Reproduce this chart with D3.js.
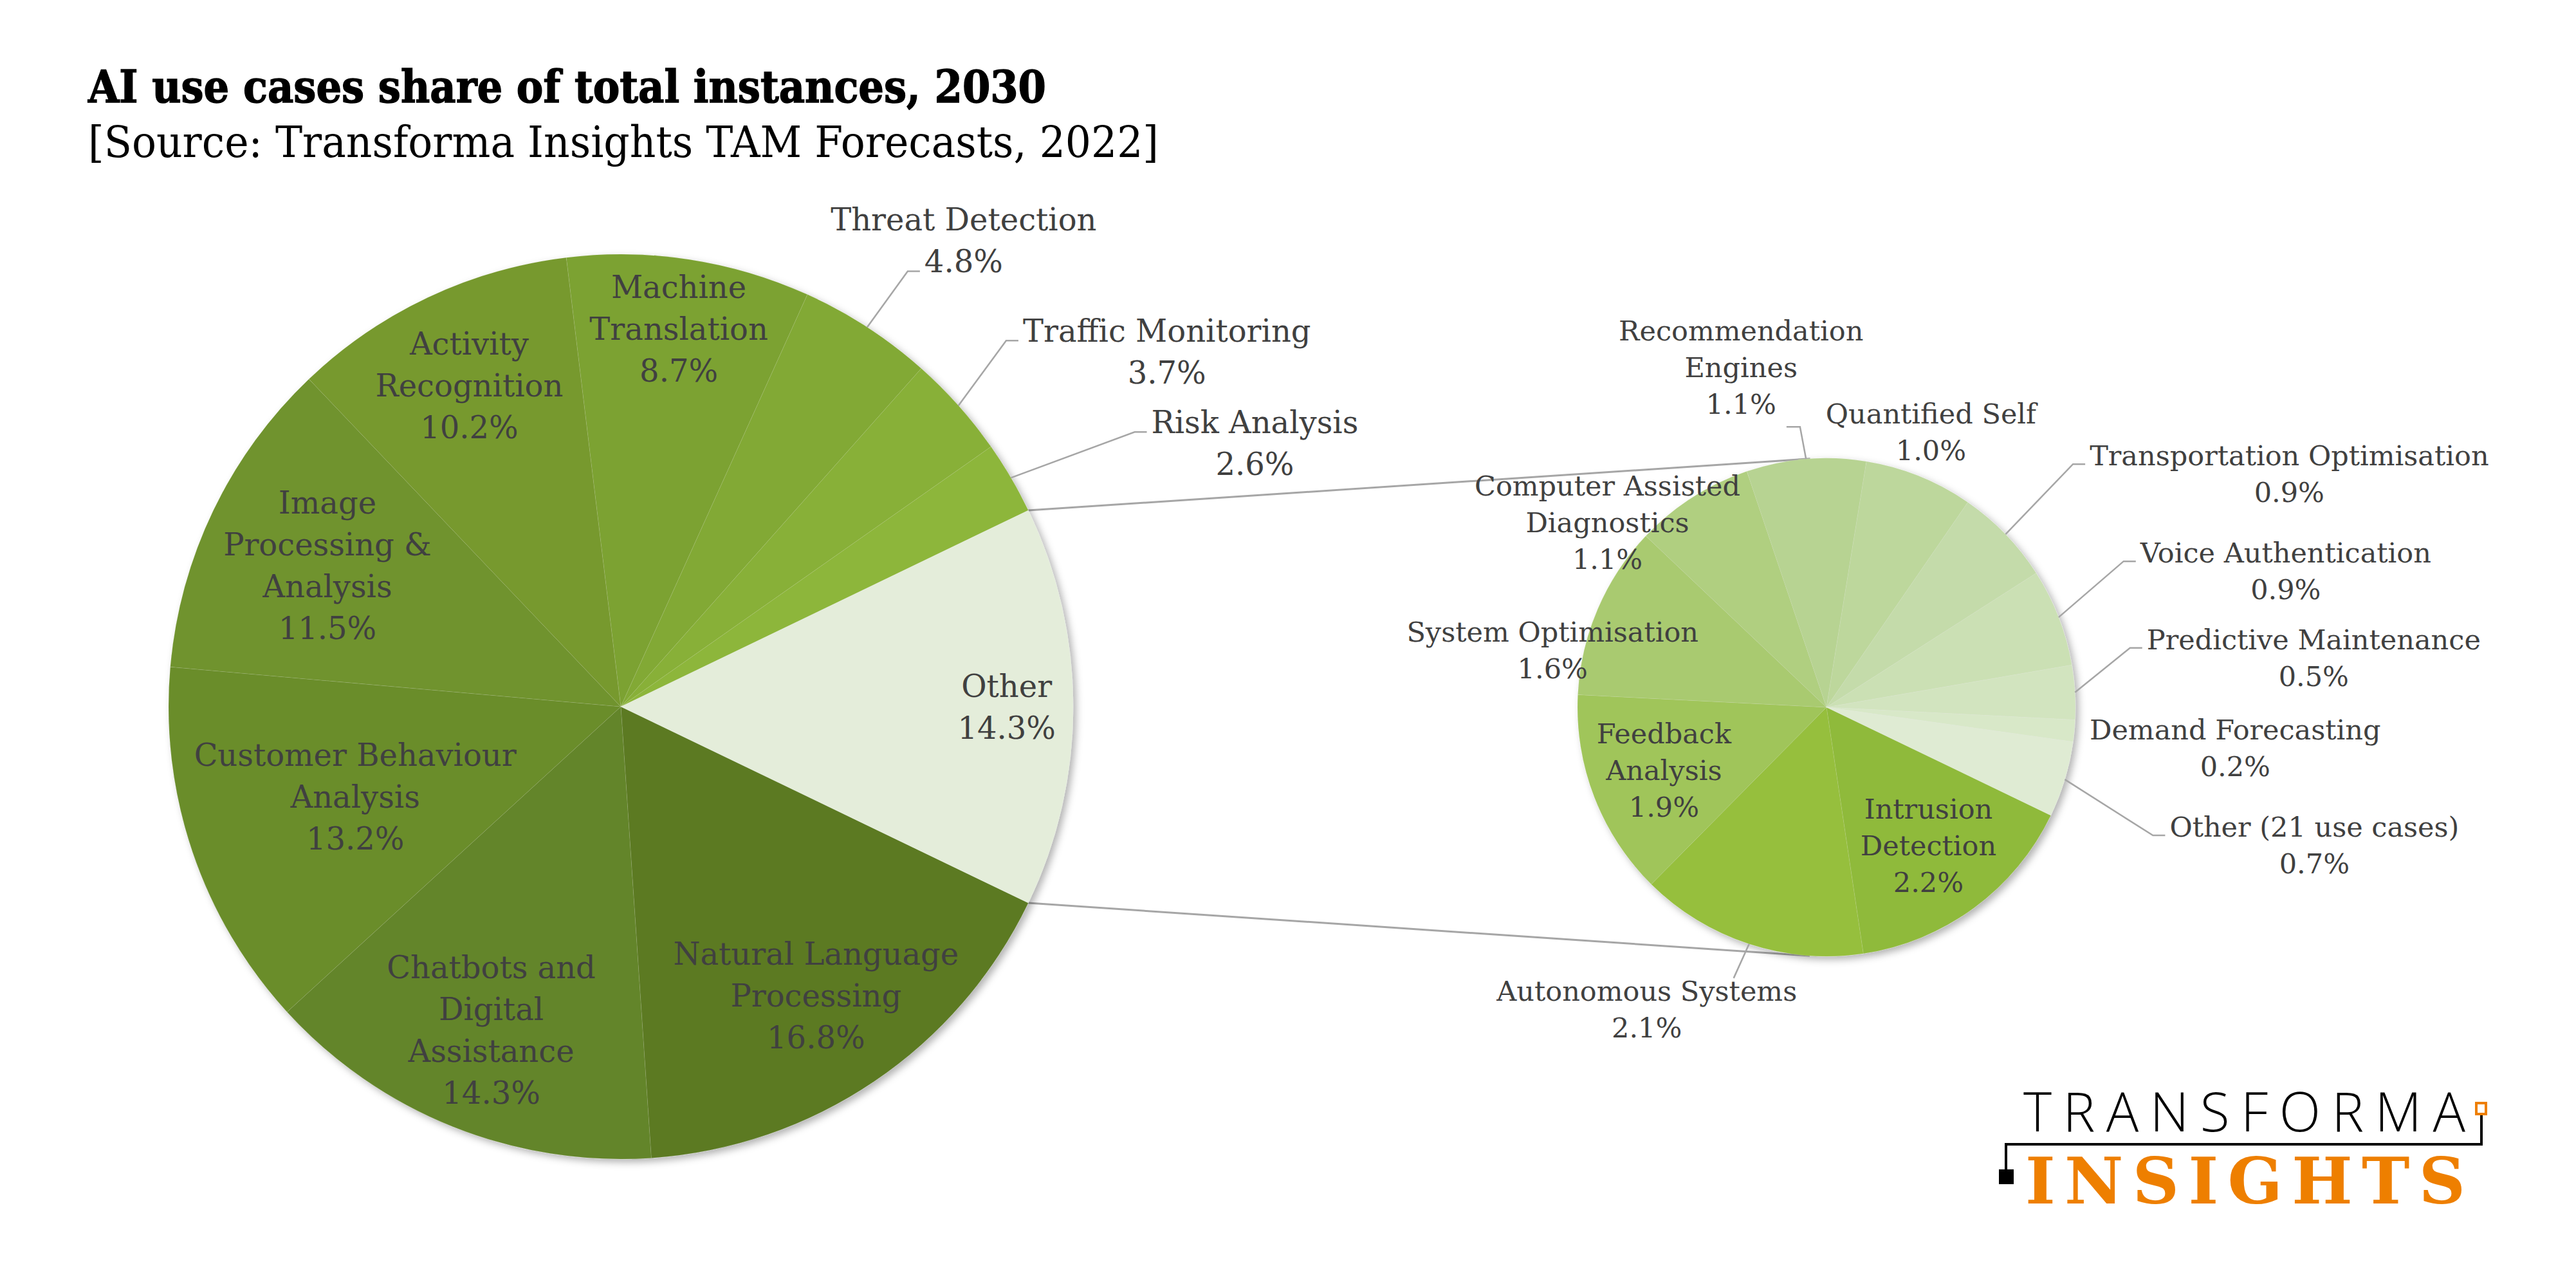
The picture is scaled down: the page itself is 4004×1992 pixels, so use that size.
<!DOCTYPE html>
<html><head><meta charset="utf-8">
<script src="https://cdn.jsdelivr.net/npm/d3@7"></script>
<style>
html,body{margin:0;padding:0;background:#fff;}
svg{display:block;}
.lbl{font-family:"DejaVu Serif",serif;fill:#404040;}
</style></head><body>
<svg id="chart" width="4004" height="1992"></svg>
<script>
// ---------- DATA ----------
const mainCategories = ["Natural Language Processing","Chatbots and Digital Assistance","Customer Behaviour Analysis","Image Processing & Analysis","Activity Recognition","Machine Translation","Threat Detection","Traffic Monitoring","Risk Analysis","Other"];
const mainValues = [16.8, 14.3, 13.2, 11.5, 10.2, 8.7, 4.8, 3.7, 2.6, 14.3];
const mainLabelLines = [["Natural Language","Processing"],["Chatbots and","Digital","Assistance"],["Customer Behaviour","Analysis"],["Image","Processing &","Analysis"],["Activity","Recognition"],["Machine","Translation"],["Threat Detection"],["Traffic Monitoring"],["Risk Analysis"],["Other"]];
const mainColors = ["#5b7a24","#64852a","#6a8d2b","#6f932d","#77992f","#7ca232","#82a934","#88b037","#8db63a","#e4edda"];

const otherCategories = ["Intrusion Detection","Autonomous Systems","Feedback Analysis","System Optimisation","Computer Assisted Diagnostics","Recommendation Engines","Quantified Self","Transportation Optimisation","Voice Authentication","Predictive Maintenance","Demand Forecasting","Other (21 use cases)"];
const otherValues = [2.2, 2.1, 1.9, 1.6, 1.1, 1.1, 1.0, 0.9, 0.9, 0.5, 0.2, 0.7];
const otherLabelLines = [["Intrusion","Detection"],["Autonomous Systems"],["Feedback","Analysis"],["System Optimisation"],["Computer Assisted","Diagnostics"],["Recommendation","Engines"],["Quantified Self"],["Transportation Optimisation"],["Voice Authentication"],["Predictive Maintenance"],["Demand Forecasting"],["Other (21 use cases)"]];
const otherColors = ["#8fba3b","#96bf3e","#a0c55a","#a9ca70","#b0cf80","#b7d392","#bdd79c","#c4dbaa","#cbe0b4","#d2e4bf","#d8e8c8","#dfebd3"];

const titleText = "AI use cases share of total instances, 2030";
const sourceText = "[Source: Transforma Insights TAM Forecasts, 2022]";

// ---------- LAYOUT ----------
const P1 = {cx: 965, cy: 1098, r: 703, font: 48, lh: 65};
const P2 = {cx: 2839, cy: 1099, r: 387, font: 43, lh: 57};
const mainLabelLayout = [
  {rf:0.77},{rf:0.77},{rf:0.62},{rf:0.72},{rf:0.785},{rf:0.845},
  {off:[150,-150],attach:"left",line:1},
  {off:[324,-99],attach:"left",line:0},
  {off:[379,-69],attach:"left",line:0},
  {rf:0.853}
];
const otherLabelLayout = [
  {rf:0.69},
  {off:[-159,88],attach:"top"},
  {rf:0.70},
  {off:[-70,50]},
  {off:[-132,-3]},
  {off:[-101,-184],attach:"right",line:2,dy:20},
  {off:[18,-82]},
  {off:[441,-107],attach:"left",line:0},
  {off:[353,-85],attach:"left",line:0},
  {off:[371,-67],attach:"left",line:0},
  {off:[250,13]},
  {off:[388,89],attach:"left",line:0}
];

const svg = d3.select("#chart");
const defs = svg.append("defs");
const f = defs.append("filter").attr("id","sh").attr("x","-10%").attr("y","-10%").attr("width","125%").attr("height","125%");
f.append("feDropShadow").attr("dx",5).attr("dy",5).attr("stdDeviation",6).attr("flood-color","#000").attr("flood-opacity",0.3);

const fmt = v => d3.format(".1f")(v) + "%";

// start angle so that "Other" is centred on the right (3 o'clock)
const mainTotal = d3.sum(mainValues);
const otherAngle = 2*Math.PI*mainValues[mainValues.length-1]/mainTotal;
const start = Math.PI/2 + otherAngle/2;

function makePie(vals){
  return d3.pie().sort(null).value(d=>d).startAngle(start).endAngle(start+2*Math.PI)(vals);
}
const mainArcs = makePie(mainValues);
const otherArcs = makePie(otherValues);

function pt(P, a, rr){ return [P.cx + rr*Math.sin(a), P.cy - rr*Math.cos(a)]; }

// ---------- CONNECTORS (tangent lines to second pie) ----------
function tangents(p, P){
  const dx = p[0]-P.cx, dy = p[1]-P.cy, d = Math.hypot(dx,dy);
  const th = Math.atan2(dy,dx), al = Math.acos(P.r/d);
  return [th+al, th-al].map(t=>[P.cx+P.r*Math.cos(t), P.cy+P.r*Math.sin(t)]);
}
const oArc = mainArcs[mainArcs.length-1];
const pTop = pt(P1, oArc.startAngle, P1.r), pBot = pt(P1, oArc.endAngle, P1.r);
const tTop = tangents(pTop, P2).sort((a,b)=>a[1]-b[1])[0];
const tBot = tangents(pBot, P2).sort((a,b)=>b[1]-a[1])[0];
svg.append("g").selectAll("line").data([[pTop,tTop],[pBot,tBot]]).join("line")
  .attr("x1",d=>d[0][0]).attr("y1",d=>d[0][1]).attr("x2",d=>d[1][0]).attr("y2",d=>d[1][1])
  .attr("stroke","#a6a6a6").attr("stroke-width",3);

// ---------- PIES ----------
function drawPie(P, arcs, colors){
  const arc = d3.arc().innerRadius(0).outerRadius(P.r);
  svg.append("g").attr("transform",`translate(${P.cx},${P.cy})`).attr("filter","url(#sh)")
    .selectAll("path").data(arcs).join("path")
    .attr("d",arc).attr("fill",(d,i)=>colors[i])
    .attr("stroke","#ffffff").attr("stroke-opacity",0.1).attr("stroke-width",1);
}
drawPie(P1, mainArcs, mainColors);
drawPie(P2, otherArcs, otherColors);

// ---------- LABELS ----------
function drawLabels(P, arcs, linesArr, layout){
  const g = svg.append("g");
  const cap = P.font*0.72;
  arcs.forEach((a,i)=>{
    const L = layout[i];
    const lines = linesArr[i].concat([fmt(a.value)]);
    const mid = (a.startAngle+a.endAngle)/2;
    let x, y0;
    const E = pt(P, mid, P.r);
    if (L.rf !== undefined){
      const c = pt(P, mid, P.r*L.rf);
      const total = cap + (lines.length-1)*P.lh;
      x = c[0]; y0 = c[1] - total/2 + cap;
    } else {
      x = E[0] + L.off[0]; y0 = E[1] + L.off[1];
    }
    const t = g.append("text").attr("class","lbl").attr("font-size",P.font).attr("text-anchor","middle");
    const spans = lines.map((s,k)=>t.append("tspan").attr("x",x).attr("y",y0+k*P.lh).text(s));
    if (L.attach){
      let path;
      if (L.attach==="left"){
        const w = spans[L.line].node().getComputedTextLength();
        const left = x - w/2, yb = y0 + L.line*P.lh - 2;
        path = [E,[left-26,yb],[left-7,yb]];
      } else if (L.attach==="right"){
        const w = spans[L.line].node().getComputedTextLength();
        const right = x + w/2, yb = y0 + L.line*P.lh + (L.dy||0);
        path = [E,[right+37,yb],[right+16,yb]];
      } else {
        path = [E,[E[0]-24, y0-cap-4]];
      }
      g.insert("path","text").attr("d",d3.line()(path)).attr("fill","none")
        .attr("stroke","#a6a6a6").attr("stroke-width",2.5);
    }
  });
}
drawLabels(P1, mainArcs, mainLabelLines, mainLabelLayout);
drawLabels(P2, otherArcs, otherLabelLines, otherLabelLayout);

// ---------- TITLE ----------
svg.append("text").attr("x",137).attr("y",159).attr("font-family","'DejaVu Serif',serif").attr("font-weight","bold")
  .attr("font-size",69).attr("fill","#000").attr("stroke","#000").attr("stroke-width",1.5)
  .attr("textLength",1489).attr("lengthAdjust","spacingAndGlyphs").text(titleText);
svg.append("text").attr("x",137).attr("y",244).attr("font-family","'DejaVu Serif',serif")
  .attr("font-size",67).attr("fill","#000").attr("textLength",1664).attr("lengthAdjust","spacingAndGlyphs").text(sourceText);

// ---------- LOGO ----------
const logo = svg.append("g");
logo.append("text").attr("x",3145).attr("y",1758).attr("font-family","'Open Sans',sans-serif").attr("font-weight",300)
  .attr("font-size",84).attr("fill","#000").attr("textLength",687).attr("lengthAdjust","spacing").text("TRANSFORMA");
logo.append("rect").attr("x",3849).attr("y",1714).attr("width",15).attr("height",17)
  .attr("fill","none").attr("stroke","#ee7f00").attr("stroke-width",4);
logo.append("path").attr("d","M3857,1733V1778H3118V1820").attr("fill","none").attr("stroke","#000").attr("stroke-width",4);
logo.append("rect").attr("x",3107).attr("y",1817).attr("width",23).attr("height",23).attr("fill","#000");
logo.append("text").attr("x",3148).attr("y",1870).attr("font-family","'DejaVu Serif',serif").attr("font-weight","bold")
  .attr("font-size",100).attr("fill","#ee7f00").attr("textLength",684).attr("lengthAdjust","spacing").text("INSIGHTS");
</script>
</body></html>
